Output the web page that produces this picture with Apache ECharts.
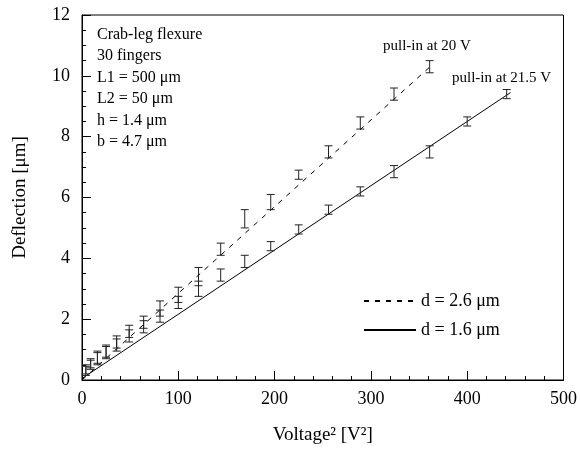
<!DOCTYPE html>
<html lang="en">
<head>
  <meta charset="UTF-8">
  <title>Deflection vs Voltage squared</title>
  <style>
  html, body {
    margin: 0;
    padding: 0;
    width: 100%;
    height: 100%;
    background: #fff;
  }
  .main {
    width: 580px;
    height: 453px;
  }
  </style>
</head>
<body>
<div class="main" id="main"></div>
<script src="https://cdn.jsdelivr.net/npm/echarts@6/dist/echarts.min.js"></script>
<script>
// voltage squared [V^2]
var vsqWide = [4, 9, 16, 25, 36, 49, 64, 81, 100, 121, 144, 169, 196, 225, 256, 289, 324, 361];
var defWide = [0.35, 0.55, 0.75, 0.95, 1.25, 1.6, 1.9, 2.35, 2.8, 3.4, 4.3, 5.3, 5.85, 6.75, 7.5, 8.45, 9.4, 10.3];
var errWide = [0.15, 0.15, 0.2, 0.2, 0.2, 0.2, 0.2, 0.25, 0.25, 0.3, 0.2, 0.3, 0.25, 0.15, 0.2, 0.2, 0.2, 0.2];

var vsqNarrow = [4, 9, 16, 25, 36, 49, 64, 81, 100, 121, 144, 169, 196, 225, 256, 289, 324, 361, 400, 441];
var defNarrow = [0.3, 0.5, 0.7, 0.9, 1.15, 1.45, 1.75, 2.1, 2.55, 3.0, 3.45, 3.9, 4.4, 4.95, 5.6, 6.2, 6.85, 7.5, 8.5, 9.4];
var errNarrow = [0.15, 0.15, 0.2, 0.2, 0.2, 0.2, 0.2, 0.2, 0.2, 0.25, 0.2, 0.2, 0.15, 0.15, 0.15, 0.15, 0.2, 0.2, 0.15, 0.15];

// fitted lines (end points)
var fitWide = [[0, 0], [365, 10.4]];
var fitNarrow = [[0, 0.05], [445, 9.45]];

var notes = ['Crab-leg flexure', '30 fingers', 'L1 = 500 \u03bcm', 'L2 = 50 \u03bcm', 'h = 1.4 \u03bcm', 'b = 4.7 \u03bcm'];

var FONT = '"Liberation Serif", "DejaVu Serif", serif';

function withErr(xs, ys, es) {
  return xs.map(function(x, i) { return [x, ys[i], es[i]]; });
}

function errorBar(params, api) {
  var x = api.value(0), y = api.value(1), e = api.value(2);
  var hi = api.coord([x, y + e]);
  var lo = api.coord([x, y - e]);
  var w = 4;
  var style = { stroke: '#222', lineWidth: 1 };
  return {
    type: 'group',
    children: [
      { type: 'line', shape: { x1: hi[0], y1: hi[1], x2: lo[0], y2: lo[1] }, style: style },
      { type: 'line', shape: { x1: hi[0] - w, y1: hi[1], x2: hi[0] + w, y2: hi[1] }, style: style },
      { type: 'line', shape: { x1: lo[0] - w, y1: lo[1], x2: lo[0] + w, y2: lo[1] }, style: style }
    ]
  };
}

var chart = echarts.init(document.getElementById('main'), null, { renderer: 'canvas' });

var option = {
  backgroundColor: '#fff',
  animation: false,
  textStyle: { fontFamily: FONT, color: '#000' },
  grid: {
    left: 82, right: 11, top: 15, bottom: 73,
    show: true, borderColor: '#000', borderWidth: 1
  },
  legend: {
    orient: 'vertical',
    left: 358,
    top: 287,
    itemWidth: 52,
    itemHeight: 10,
    itemGap: 11,
    data: ['d = 2.6 \u03bcm', 'd = 1.6 \u03bcm'],
    itemStyle: { opacity: 0 },
    textStyle: { fontFamily: FONT, fontSize: 18, color: '#000' }
  },
  xAxis: {
    type: 'value',
    min: 0, max: 500, interval: 100,
    name: 'Voltage\u00b2 [V\u00b2]',
    nameLocation: 'middle',
    nameGap: 46,
    nameTextStyle: { fontFamily: FONT, fontSize: 19, color: '#000' },
    axisLine: { lineStyle: { color: '#000' } },
    axisTick: { inside: true, length: 9, lineStyle: { color: '#000' } },
    minorTick: { show: true, splitNumber: 5, length: 4, lineStyle: { color: '#000' } },
    axisLabel: { fontFamily: FONT, fontSize: 18, color: '#000', margin: 10 },
    splitLine: { show: false }
  },
  yAxis: {
    type: 'value',
    min: 0, max: 12, interval: 2,
    name: 'Deflection [\u03bcm]',
    nameLocation: 'middle',
    nameGap: 52,
    nameRotate: 90,
    nameTextStyle: { fontFamily: FONT, fontSize: 19, color: '#000' },
    axisLine: { lineStyle: { color: '#000' } },
    axisTick: { inside: true, length: 9, lineStyle: { color: '#000' } },
    minorTick: { show: true, splitNumber: 4, length: 4, lineStyle: { color: '#000' } },
    axisLabel: { fontFamily: FONT, fontSize: 18, color: '#000', margin: 12 },
    splitLine: { show: false }
  },
  graphic: [
    {
      type: 'text', left: 97, top: 24,
      style: { text: notes.join('\n'), font: '16px ' + FONT, fill: '#000', lineHeight: 21.5 }
    },
    {
      type: 'text', left: 383, top: 39,
      style: { text: 'pull-in at 20 V', font: '15px ' + FONT, fill: '#000' }
    },
    {
      type: 'text', left: 452, top: 71,
      style: { text: 'pull-in at 21.5 V', font: '15px ' + FONT, fill: '#000' }
    }
  ],
  series: [
    {
      name: 'd = 2.6 \u03bcm',
      type: 'line',
      data: fitWide,
      symbol: 'none',
      lineStyle: { color: '#000', width: 1, type: [5, 6] },
      itemStyle: { color: '#000' },
      z: 3
    },
    {
      name: 'd = 1.6 \u03bcm',
      type: 'line',
      data: fitNarrow,
      symbol: 'none',
      lineStyle: { color: '#000', width: 1, type: 'solid' },
      itemStyle: { color: '#000' },
      z: 3
    },
    {
      name: 'err wide',
      type: 'custom',
      renderItem: errorBar,
      data: withErr(vsqWide, defWide, errWide),
      encode: { x: 0, y: 1 },
      z: 4
    },
    {
      name: 'err narrow',
      type: 'custom',
      renderItem: errorBar,
      data: withErr(vsqNarrow, defNarrow, errNarrow),
      encode: { x: 0, y: 1 },
      z: 4
    }
  ]
};

chart.setOption(option);
</script>
</body>
</html>
